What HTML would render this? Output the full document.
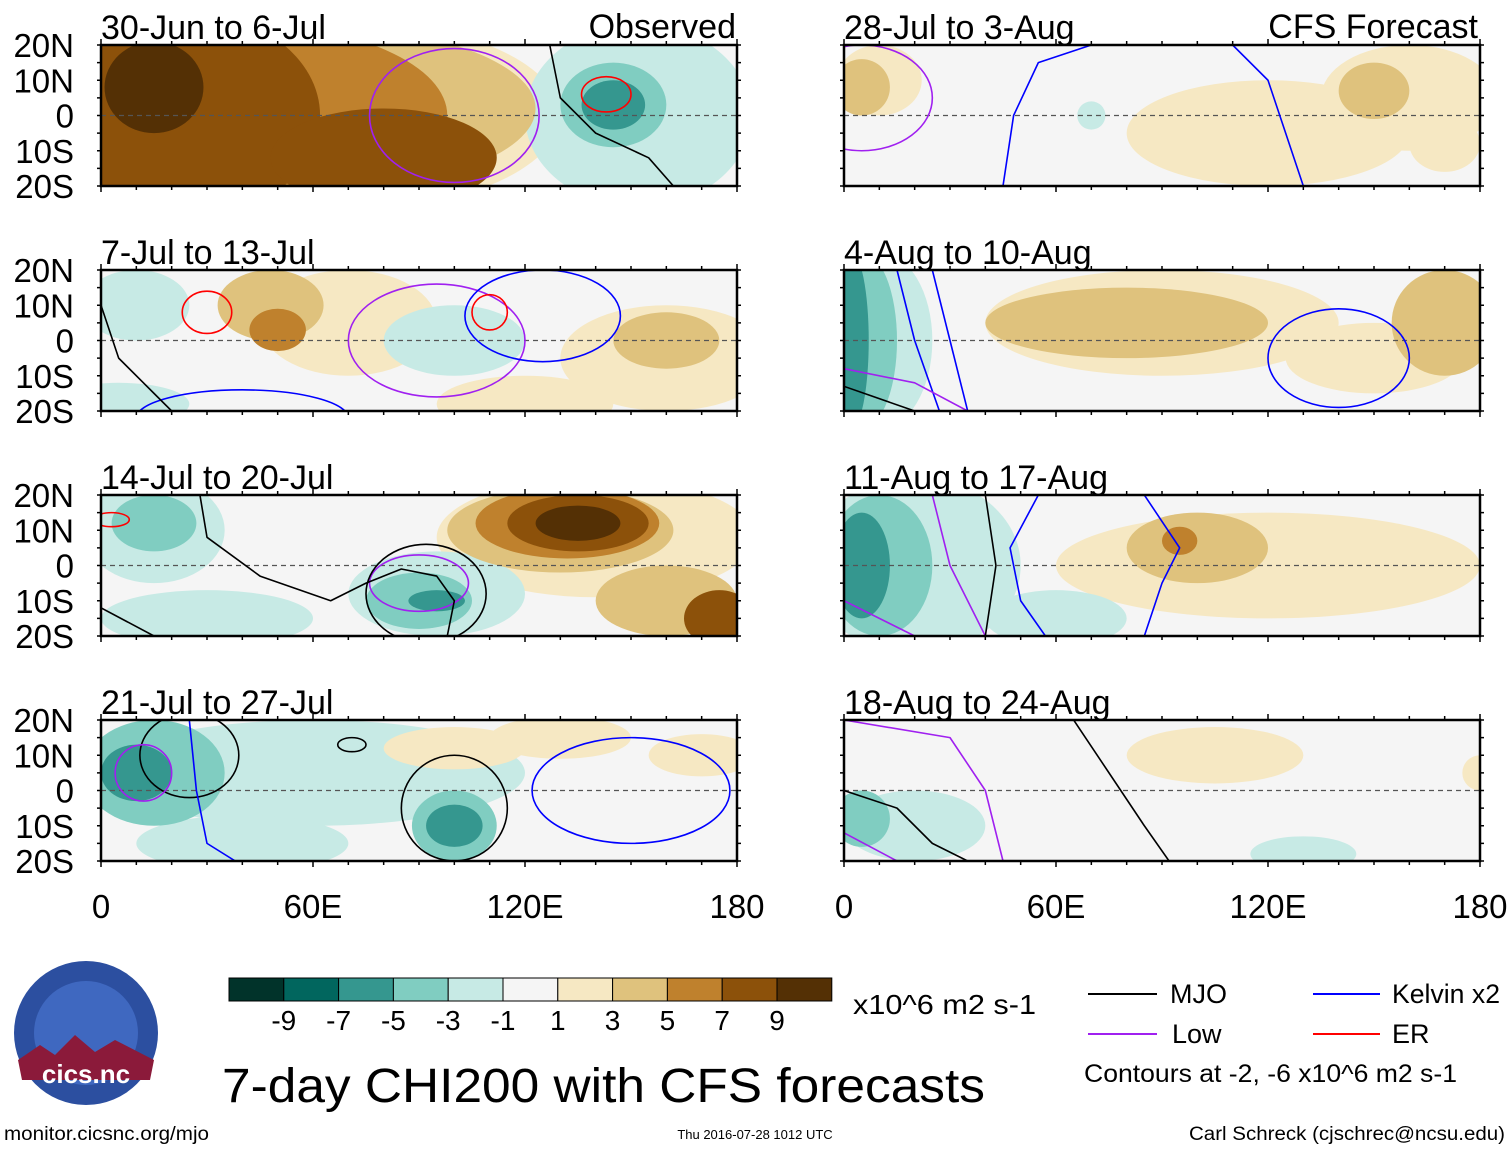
<!DOCTYPE html>
<html><head><meta charset="utf-8"><style>
body{margin:0;background:#fff;}
svg{display:block;font-family:"Liberation Sans",sans-serif;}
</style></head><body>
<svg id="fig" width="1510" height="1149" viewBox="0 0 1510 1149">
<g id="panels"></g>
<g id="cbar"></g>
<text x="853" y="1014" font-size="28" textLength="183" lengthAdjust="spacingAndGlyphs">x10^6 m2 s-1</text>
<text x="222" y="1102" font-size="48" textLength="763" lengthAdjust="spacingAndGlyphs">7-day CHI200 with CFS forecasts</text>
<g font-size="27">
<line x1="1088" y1="994" x2="1157" y2="994" stroke="#000" stroke-width="2"/><text x="1170" y="1003">MJO</text>
<line x1="1313" y1="994" x2="1380" y2="994" stroke="#0000ff" stroke-width="2"/><text x="1392" y="1003" textLength="108" lengthAdjust="spacingAndGlyphs">Kelvin x2</text>
<line x1="1088" y1="1034" x2="1157" y2="1034" stroke="#a020f0" stroke-width="2"/><text x="1172" y="1043">Low</text>
<line x1="1313" y1="1034" x2="1380" y2="1034" stroke="#ff0000" stroke-width="2"/><text x="1392" y="1043">ER</text>
<text x="1084" y="1082" font-size="25" textLength="373" lengthAdjust="spacingAndGlyphs">Contours at -2, -6 x10^6 m2 s-1</text>
</g>
<g>
<circle cx="86" cy="1033" r="72" fill="#2c4fa0"/>
<circle cx="86" cy="1033" r="52" fill="#3f68c0"/>
<path d="M18 1060 L40 1045 L55 1055 L75 1035 L95 1052 L115 1040 L154 1060 L150 1080 L22 1080 Z" fill="#8b1a3a"/>
<text x="86" y="1083" font-size="26" fill="#fff" text-anchor="middle" font-weight="bold">cics.nc</text>
</g>
<text x="4" y="1140" font-size="19" textLength="205" lengthAdjust="spacingAndGlyphs">monitor.cicsnc.org/mjo</text>
<text x="755" y="1139" font-size="13" text-anchor="middle">Thu 2016-07-28 1012 UTC</text>
<text x="1505" y="1140" font-size="19" text-anchor="end" textLength="316" lengthAdjust="spacingAndGlyphs">Carl Schreck (cjschrec@ncsu.edu)</text>
</svg>
<script>
const levels=[-9,-7,-5,-3,-1,1,3,5,7,9];
const colors=["#01332a","#01665e","#35978f","#80cdc1","#c7eae5","#f5f5f5","#f6e8c3","#dfc27d","#bf812d","#8c510a","#543005"];
const titles=["30-Jun to 6-Jul","7-Jul to 13-Jul","14-Jul to 20-Jul","21-Jul to 27-Jul","28-Jul to 3-Aug","4-Aug to 10-Aug","11-Aug to 17-Aug","18-Aug to 24-Aug"];
const latTicks=["20N","10N","0","10S","20S"];
const lonTicks=["0","60E","120E","180"];
// blobs: [lon, lat, rx, ry, level(-5..5)]
const blobs=[
[[62,0,68,28,1],[55,2,68,24,2],[40,0,58,26,3],[22,0,40,30,4],[80,-12,32,14,4],[15,8,14,13,5],[152,0,32,26,-1],[145,3,15,12,-2],[145,3,9,7,-3]],
[[70,5,25,15,1],[160,-5,30,15,1],[48,10,15,10,2],[50,3,8,6,3],[160,0,15,8,2],[120,-18,25,8,1],[100,0,20,10,-1],[5,-18,20,6,-1],[10,10,15,10,-1]],
[[140,8,45,17,1],[130,10,32,12,2],[132,12,26,10,3],[135,12,20,8,4],[135,12,12,5,5],[175,-15,10,8,4],[160,-10,20,10,2],[15,10,20,15,-1],[15,12,12,8,-2],[95,-8,25,12,-1],[90,-10,15,8,-2],[95,-10,8,3,-3],[30,-15,30,8,-1]],
[[60,5,60,15,-1],[15,5,20,15,-2],[10,5,10,8,-3],[100,-10,12,10,-2],[100,-10,8,6,-3],[40,-15,30,8,-1],[100,12,20,6,1],[170,10,15,6,1],[130,15,20,6,1]],
[[120,-5,40,15,1],[160,5,25,15,1],[150,7,10,8,2],[10,10,12,10,1],[170,-8,10,8,1],[5,8,8,8,2],[70,0,4,4,-1]],
[[90,5,50,15,1],[80,5,40,10,2],[170,5,15,15,2],[150,-5,25,10,1],[10,0,15,25,-1],[5,0,10,25,-2],[2,0,5,25,-3]],
[[120,0,60,15,1],[100,5,20,10,2],[95,7,5,4,3],[20,0,30,25,-1],[10,0,15,20,-2],[5,0,8,15,-3],[60,-15,20,8,-1]],
[[105,10,25,8,1],[180,5,5,5,1],[20,-10,20,10,-1],[5,-8,8,8,-2],[130,-18,15,5,-1]]
];
// contour ellipses: [color, lon, lat, rx, ry]
const rings=[
[["#a020f0",100,0,24,19],["#ff0000",143,6,7,5]],
[["#a020f0",95,0,25,16],["#0000ff",125,7,22,13],["#ff0000",30,8,7,6],["#ff0000",110,8,5,5],["#0000ff",40,-22,30,8]],
[["#a020f0",90,-5,14,8],["#000000",92,-8,17,14],["#ff0000",3,13,5,2]],
[["#0000ff",150,0,28,15],["#000000",100,-5,15,15],["#000000",25,10,14,12],["#a020f0",12,5,8,8],["#000000",71,13,4,2]],
[["#a020f0",5,5,20,15]],
[["#0000ff",140,-5,20,14]],
[],
[]
];
// polylines: [color, [lon,lat,...]]
const paths=[
[["#000000",[127,20,130,5,140,-5,155,-12,162,-20]]],
[["#000000",[0,10,5,-5,15,-15,20,-20]]],
[["#000000",[0,-12,15,-20]],["#000000",[28,20,30,8,45,-3,65,-10,75,-5,85,-1,95,-3,100,-10,98,-20]]],
[["#0000ff",[25,20,27,0,30,-15,38,-20]]],
[["#0000ff",[45,-20,48,0,55,15,70,20]],["#0000ff",[110,20,120,10,125,-5,130,-20]]],
[["#0000ff",[15,20,20,0,27,-20]],["#0000ff",[25,20,30,0,35,-20]],["#a020f0",[0,-8,20,-12,35,-20]],["#000000",[0,-13,20,-20]]],
[["#0000ff",[55,20,47,5,50,-10,57,-20]],["#0000ff",[85,20,95,5,90,-5,85,-20]],["#a020f0",[25,20,30,0,40,-20]],["#000000",[40,20,43,0,40,-20]],["#a020f0",[0,-10,20,-20]]],
[["#a020f0",[0,20,30,15,40,0,45,-20]],["#000000",[0,0,15,-5,25,-15,35,-20]],["#000000",[65,20,75,5,85,-10,92,-20]],["#a020f0",[0,-12,15,-20]]]
];
const NS="http://www.w3.org/2000/svg";
const W=636,H=141;
const xs=[101,844],ys=[45,270,495,720];
function mk(t,a,p){const e=document.createElementNS(NS,t);for(const k in a)e.setAttribute(k,a[k]);p.appendChild(e);return e;}
function col(l){return colors[l+5];}
const root=document.getElementById('panels');
for(let i=0;i<8;i++){
  const x0=xs[i<4?0:1],y0=ys[i%4];
  const X=lon=>x0+lon/180*W, Y=lat=>y0+(20-lat)/40*H;
  const g=mk('g',{},root);
  
  
  const cp=mk('clipPath',{id:'c'+i},g);mk('rect',{x:x0,y:y0,width:W,height:H},cp);
  const m=mk('g',{'clip-path':'url(#c'+i+')'},g);
  mk('rect',{x:x0,y:y0,width:W,height:H,fill:col(0)},m);
  const bl=blobs[i].slice().sort((a,b)=>Math.abs(a[4])-Math.abs(b[4]));
  bl.forEach(b=>{const e=mk('ellipse',{cx:X(b[0]),cy:Y(b[1]),rx:b[2]/180*W,ry:b[3]/40*H,fill:col(b[4])},m);
    });
  mk('line',{x1:x0,y1:Y(0),x2:x0+W,y2:Y(0),stroke:'#555','stroke-dasharray':'5,4','stroke-width':1.2},m);
  rings[i].forEach(r=>{const e=mk('ellipse',{cx:X(r[1]),cy:Y(r[2]),rx:r[3]/180*W,ry:r[4]/40*H,fill:'none',stroke:r[0],'stroke-width':1.6},m);
    });
  paths[i].forEach(p=>{let d='';for(let k=0;k<p[1].length;k+=2)d+=(k?'L':'M')+X(p[1][k])+' '+Y(p[1][k+1]);
    const e=mk('path',{d:d,fill:'none',stroke:p[0],'stroke-width':1.6,'stroke-linejoin':'round'},m);
    });
  mk('rect',{x:x0,y:y0,width:W,height:H,fill:'none',stroke:'#000','stroke-width':2.5},g);
  for(let t=0;t<=18;t++){const xx=X(t*10),L=(t%6==0)?6:4;mk('line',{x1:xx,y1:y0-L,x2:xx,y2:y0,stroke:'#000','stroke-width':1.5},g);mk('line',{x1:xx,y1:y0+H,x2:xx,y2:y0+H+L,stroke:'#000','stroke-width':1.5},g);}
  for(let t=0;t<=8;t++){const yy=Y(20-t*5);mk('line',{x1:x0-4,y1:yy,x2:x0,y2:yy,stroke:'#000','stroke-width':1.5},g);mk('line',{x1:x0+W,y1:yy,x2:x0+W+4,y2:yy,stroke:'#000','stroke-width':1.5},g);}
  const tt=mk('text',{x:x0,y:y0-6,'font-size':34},g);tt.textContent=titles[i];
  
  if(i<4){latTicks.forEach((s,k)=>{const e=mk('text',{x:74,y:Y(20-k*10)+12,'font-size':33,'text-anchor':'end'},g);e.textContent=s;
    });}
  if(i%4==3){lonTicks.forEach((s,k)=>{const e=mk('text',{x:X(k*60),y:918,'font-size':33,'text-anchor':'middle'},g);e.textContent=s;
    });}
}
const hdr=[[736,"Observed"],[1478,"CFS Forecast"]];
hdr.forEach(h=>{const e=mk('text',{x:h[0],y:38,'font-size':34,'text-anchor':'end'},document.getElementById('fig'));e.textContent=h[1];
  });
const cb=document.getElementById('cbar');
const cw=54.8;
colors.forEach((c,k)=>{const e=mk('rect',{x:229+k*cw,y:978,width:cw,height:23,fill:c,stroke:'#000','stroke-width':1},cb);
  });
levels.forEach((v,k)=>{const e=mk('text',{x:229+(k+1)*cw,y:1030,'font-size':28,'text-anchor':'middle'},cb);e.textContent=v;
  });
</script>
</body></html>
